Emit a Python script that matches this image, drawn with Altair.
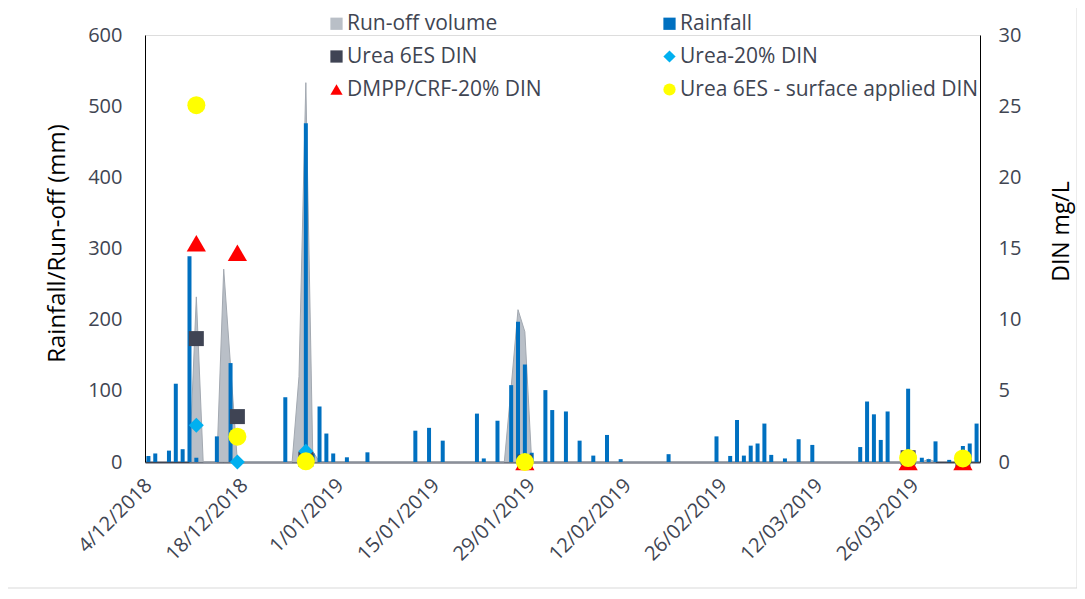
import altair as alt
import pandas as pd

# ---------------- data ----------------
# legend order (filled column by column): Run-off, Urea 6ES, DMPP | Rainfall, Urea-20%, surface
series_names = ["Run-off volume", "Urea 6ES DIN", "DMPP/CRF-20% DIN",
                "Rainfall", "Urea-20% DIN", "Urea 6ES - surface applied DIN"]
series_colors = ["#B9BFC7", "#3F4454", "#FF0000", "#0070C0", "#00B0F0", "#FFFF00"]
series_shapes = ["square", "square", "triangle-up", "square", "diamond", "circle"]

rain_dates = ["2018-12-04", "2018-12-05", "2018-12-07", "2018-12-08", "2018-12-09", "2018-12-10",
              "2018-12-11", "2018-12-14", "2018-12-16", "2018-12-24", "2018-12-27", "2018-12-28",
              "2018-12-29", "2018-12-30", "2018-12-31", "2019-01-02", "2019-01-05", "2019-01-12",
              "2019-01-14", "2019-01-16", "2019-01-21", "2019-01-22", "2019-01-24", "2019-01-26",
              "2019-01-27", "2019-01-28", "2019-01-29", "2019-01-31", "2019-02-01", "2019-02-03",
              "2019-02-05", "2019-02-07", "2019-02-09", "2019-02-11", "2019-02-18", "2019-02-25",
              "2019-02-27", "2019-02-28", "2019-03-01", "2019-03-02", "2019-03-03", "2019-03-04",
              "2019-03-05", "2019-03-07", "2019-03-09", "2019-03-11", "2019-03-18", "2019-03-19",
              "2019-03-20", "2019-03-21", "2019-03-22", "2019-03-25", "2019-03-27", "2019-03-28",
              "2019-03-29", "2019-03-31", "2019-04-02", "2019-04-03", "2019-04-04"]
rain_mm = [8.4, 12, 16, 110, 18, 289,
           6, 36, 139, 91, 476, 12,
           78, 40, 12, 6.6, 13.6, 44,
           48, 30, 68, 5, 58, 108,
           197, 137, 13, 101, 73, 71,
           30, 9, 38, 4, 11, 36,
           8.5, 59, 9, 23, 26, 54,
           10, 5, 32, 24, 21, 85,
           67, 31, 71, 103, 6, 4,
           29, 3, 22.5, 26, 54]

runoff_dates = ["2018-12-10", "2018-12-11", "2018-12-12", "2018-12-14", "2018-12-15", "2018-12-16",
                "2018-12-17", "2018-12-25", "2018-12-26", "2018-12-27", "2018-12-28", "2018-12-29",
                "2019-01-25", "2019-01-26", "2019-01-27", "2019-01-28", "2019-01-29",
                "2019-03-27", "2019-03-28", "2019-03-29"]
runoff_mm = [0, 232, 0, 0, 271, 135,
             0, 0, 120, 533, 15, 0,
             0, 105, 214, 183, 0,
             0, 4, 0]

din_dates = ["2018-12-11", "2018-12-17", "2018-12-27", "2019-01-28", "2019-03-25", "2019-04-02"]
din_urea6es = [8.67, 3.19, 0.2, 0.0, 0.3, 0.05]
din_urea20 = [2.58, 0.0, 0.75, 0.0, 0.0, 0.0]
din_dmpp = [15.37, 14.7, None, 0.0, 0.0, 0.0]
din_surface = [25.07, 1.78, 0.05, 0.0, 0.28, 0.25]

x_tick_dates = ["2018-12-04", "2018-12-18", "2019-01-01", "2019-01-15", "2019-01-29",
                "2019-02-12", "2019-02-26", "2019-03-12", "2019-03-26"]
x_domain = ["2018-12-04", "2019-04-05"]
left_ticks = [0, 100, 200, 300, 400, 500, 600]
right_ticks = [0, 5, 10, 15, 20, 25, 30]

# ---------------- tables ----------------
def dt(s, hour=0):
    y, m, d = (int(v) for v in s.split("-"))
    return alt.DateTime(year=y, month=m, date=d, hours=hour)

rain_df = pd.DataFrame({"date": [d + "T12:00:00" for d in rain_dates],
                        "rain": rain_mm, "series": "Rainfall"})
runoff_df = pd.DataFrame({"date": [d + "T12:00:00" for d in runoff_dates],
                          "runoff": runoff_mm, "series": "Run-off volume"})
rows = []
for name, vals in [("Urea 6ES DIN", din_urea6es), ("Urea-20% DIN", din_urea20),
                   ("DMPP/CRF-20% DIN", din_dmpp), ("Urea 6ES - surface applied DIN", din_surface)]:
    for d, v in zip(din_dates, vals):
        if v is not None:
            rows.append({"date": d + "T12:00:00", "series": name, "value": v})
din_df = pd.DataFrame(rows)

# ---------------- styles ----------------
FONT = "Open Sans"
TXT = "#404552"
marker_size = {"Urea 6ES DIN": 225, "Urea-20% DIN": 225,
               "DMPP/CRF-20% DIN": 370, "Urea 6ES - surface applied DIN": 324}

legend = alt.Legend(title=None, orient="none", legendX=181, legendY=-22, columns=2,
                    columnPadding=117, rowPadding=11, labelFont=FONT, labelFontSize=21,
                    labelColor=TXT, symbolSize=150, symbolStrokeWidth=0, padding=0,
                    labelOffset=0, labelLimit=400)
color_scale = alt.Scale(domain=series_names, range=series_colors)
shape_scale = alt.Scale(domain=series_names, range=series_shapes)

x_scale = alt.Scale(domain=[dt(x_domain[0]), dt(x_domain[1])], padding=0, nice=False)
x_axis = alt.Axis(values=[dt(d, 12) for d in x_tick_dates], format="%-d/%m/%Y", formatType="time",
                  labelAngle=-45, labelAlign="right", labelBaseline="middle", labelFont=FONT,
                  labelFontSize=20, labelColor=TXT, ticks=False, domainColor=TXT, domainWidth=2,
                  grid=False, title=None, labelPadding=20, labelOverlap=False, labelFlush=False)

def X():
    return alt.X("date:T", scale=x_scale, axis=x_axis)

left_axis = alt.Axis(values=left_ticks, title="Rainfall/Run-off (mm)", titleFont=FONT,
                     titleFontSize=24, titleFontWeight="normal", titleColor="#000000",
                     labelFont=FONT, labelFontSize=20, labelColor=TXT, ticks=False,
                     domainColor="#000000", domainWidth=1, grid=False, labelPadding=23,
                     titleX=-88, titleY=208, titleAngle=-90, titleAlign="center",
                     titleBaseline="middle")
left_scale = alt.Scale(domain=[0, 600], nice=False)

right_axis = alt.Axis(orient="right", values=right_ticks, title="DIN mg/L", titleFont=FONT,
                      titleFontSize=23, titleFontWeight="normal", titleColor="#000000",
                      labelFont=FONT, labelFontSize=20, labelColor=TXT, ticks=False,
                      domainColor="#000000", domainWidth=1, grid=False, labelPadding=18,
                      titleX=81, titleY=196, titleAngle=-90, titleAlign="center",
                      titleBaseline="middle")
right_scale = alt.Scale(domain=[0, 30], nice=False)

# ---------------- layers ----------------
area = alt.Chart(runoff_df).mark_area(stroke="#A3A9B1", strokeWidth=1, opacity=1).encode(
    x=X(),
    y=alt.Y("runoff:Q", scale=left_scale, axis=left_axis),
    color=alt.Color("series:N", scale=color_scale, legend=legend),
)
bars = alt.Chart(rain_df).mark_bar(size=4).encode(
    x=X(),
    y=alt.Y("rain:Q", scale=left_scale, axis=left_axis),
    color=alt.Color("series:N", scale=color_scale, legend=legend),
)
left = alt.layer(area, bars)

point_layers = []
for name in ["Urea 6ES DIN", "Urea-20% DIN", "DMPP/CRF-20% DIN", "Urea 6ES - surface applied DIN"]:
    point_layers.append(
        alt.Chart(din_df).transform_filter(alt.datum.series == name)
        .mark_point(filled=True, opacity=1, size=marker_size[name], strokeWidth=0)
        .encode(
            x=X(),
            y=alt.Y("value:Q", scale=right_scale, axis=right_axis),
            color=alt.Color("series:N", scale=color_scale, legend=legend),
            shape=alt.Shape("series:N", scale=shape_scale, legend=legend),
        )
    )
right = alt.layer(*point_layers)

frame = alt.Chart(pd.DataFrame({"k": [0]})).mark_rect(
    filled=False, stroke="#D9D9D9", strokeWidth=1).encode(
    x=alt.value(-140), x2=alt.value(932), y=alt.value(-30), y2=alt.value(553))

chart = alt.layer(frame, left, right).resolve_scale(y="independent").properties(
    width=835, height=427,
    autosize=alt.AutoSizeParams(type="none"),
    padding={"left": 137, "top": 27, "right": 97, "bottom": 128},
).configure_view(strokeWidth=0).configure(font=FONT)

chart.save("out.html", embed_options={"renderer": "svg", "actions": False})
